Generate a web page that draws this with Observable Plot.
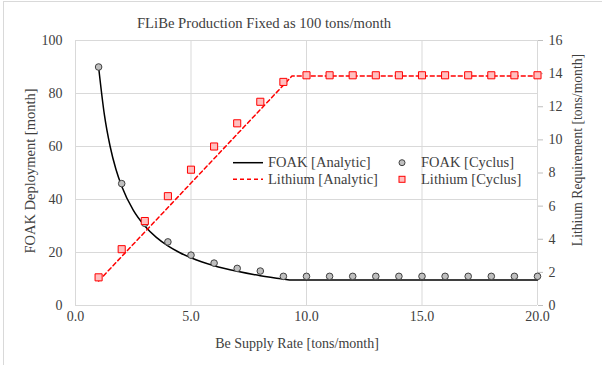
<!DOCTYPE html>
<html>
<head>
<meta charset="utf-8">
<script src="https://cdn.jsdelivr.net/npm/d3@7"></script>
<script src="https://cdn.jsdelivr.net/npm/@observablehq/plot@0.6"></script>
<style>
  html, body { margin: 0; padding: 0; background: white; }
  #chart { position: relative; width: 602px; height: 365px; overflow: hidden; }
  #chart svg, #chart svg text { font-family: "Liberation Serif", "Times New Roman", serif !important; }
</style>
</head>
<body>
<div id="chart"></div>
<script>
// ---- data ----
const title = "FLiBe Production Fixed as 100 tons/month";
const xLabel = "Be Supply Rate [tons/month]";
const yLeftLabel = "FOAK Deployment [month]";
const yRightLabel = "Lithium Requirement [tons/month]";

const xTicks = [0, 5, 10, 15, 20];
const yLeftTicks = [0, 20, 40, 60, 80, 100];
const yRightTicks = [0, 2, 4, 6, 8, 10, 12, 14, 16];

// Analytic curves
const foakAnalyticX = [1, 1.25, 1.5, 1.75, 2, 2.5, 3, 3.5, 4, 4.5, 5, 6, 7, 8, 9, 9.37, 20];
const foakAnalyticY = [90, 72, 60, 51.4, 45, 36, 30, 25.7, 22.5, 20, 18, 15, 12.9, 11.25, 10, 9.6, 9.6];
const liAnalyticX = [1, 9.37, 20];
const liAnalyticY = [1.48, 13.85, 13.85];

// Cyclus points
const cyclusX = [1, 2, 3, 4, 5, 6, 7, 8, 9, 10, 11, 12, 13, 14, 15, 16, 17, 18, 19, 20];
const foakCyclus = [90, 46, 31, 24, 19, 16, 14, 13, 11, 11, 11, 11, 11, 11, 11, 11, 11, 11, 11, 11];
const liCyclus = [1.7, 3.4, 5.1, 6.6, 8.2, 9.6, 11.0, 12.3, 13.5, 13.9, 13.9, 13.9, 13.9, 13.9, 13.9, 13.9, 13.9, 13.9, 13.9, 13.9];

const legendItems = [
  {label: "FOAK [Analytic]", kind: "line", color: "#000000", dash: null},
  {label: "Lithium [Analytic]", kind: "line", color: "#ff0000", dash: "4,3"},
  {label: "FOAK [Cyclus]", kind: "circle"},
  {label: "Lithium [Cyclus]", kind: "square"}
];

// ---- build ----
const LEFT_MAX = 100, RIGHT_MAX = 16;
const li2y = v => v * LEFT_MAX / RIGHT_MAX;

const foakLine = foakAnalyticX.map((x, i) => ({x, y: foakAnalyticY[i]}));
const liLine = liAnalyticX.map((x, i) => ({x, y: li2y(liAnalyticY[i])}));
const foakPts = cyclusX.map((x, i) => ({x, y: foakCyclus[i]}));
const liPts = cyclusX.map((x, i) => ({x, y: li2y(liCyclus[i])}));

const gridColor = "#d9d9d9";
const textColor = "#404040";
const font = "Liberation Serif, Times New Roman, serif";

const plot = Plot.plot({
  width: 602,
  height: 365,
  marginLeft: 75,
  marginRight: 65,
  marginTop: 40,
  marginBottom: 60,
  style: {fontFamily: font, fontSize: "14px", color: textColor, background: "white", overflow: "visible"},
  x: {domain: [0, 20]},
  y: {domain: [0, LEFT_MAX]},
  marks: [
    Plot.gridX(xTicks, {stroke: gridColor, strokeOpacity: 1}),
    Plot.gridY(yLeftTicks, {stroke: gridColor, strokeOpacity: 1}),
    Plot.ruleX([0], {stroke: gridColor}),
    Plot.ruleX([20], {stroke: gridColor}),
    Plot.ruleY([0], {stroke: gridColor}),
    Plot.axisX(xTicks, {tickSize: 0, tickPadding: 6, tickFormat: d => d.toFixed(1), label: null, fill: textColor}),
    Plot.axisY(yLeftTicks, {tickSize: 0, tickPadding: 13, label: null, fill: textColor}),
    Plot.axisY(yRightTicks.map(li2y), {anchor: "right", tickSize: 5, tickPadding: 6, stroke: "#bfbfbf", fill: textColor,
      tickFormat: d => String(Math.round(d * RIGHT_MAX / LEFT_MAX)), label: null}),
    Plot.line(foakLine, {x: "x", y: "y", stroke: "#000000", strokeWidth: 1.5, curve: "monotone-x"}),
    Plot.line(liLine, {x: "x", y: "y", stroke: "#ff0000", strokeWidth: 1.5, strokeDasharray: "4,3"}),
    Plot.dot(foakPts, {x: "x", y: "y", r: 3.3, fill: "#bfbfbf", stroke: "#404040", strokeWidth: 1}),
    Plot.dot(liPts, {x: "x", y: "y", r: 4, symbol: "square", fill: "#ffbfbf", stroke: "#ff0000", strokeWidth: 1})
  ]
});

const svg = d3.select(plot);
// outer chart border
svg.append("rect").attr("x", 3.5).attr("y", 1.5).attr("width", 610).attr("height", 380)
  .attr("fill", "none").attr("stroke", gridColor);

// title
svg.append("text").attr("x", 264).attr("y", 28).attr("text-anchor", "middle")
  .attr("font-size", "14.7px").attr("fill", textColor).text(title);
// x label
svg.append("text").attr("x", 297).attr("y", 348).attr("text-anchor", "middle")
  .attr("font-size", "14px").attr("fill", textColor).text(xLabel);
// left y label
svg.append("text").attr("transform", "translate(35,171) rotate(-90)").attr("text-anchor", "middle")
  .attr("font-size", "14.5px").attr("fill", textColor).text(yLeftLabel);
// right y label
svg.append("text").attr("transform", "translate(582,150) rotate(-90)").attr("text-anchor", "middle")
  .attr("font-size", "13.7px").attr("fill", textColor).text(yRightLabel);

// legend
const legendPos = [
  {x: 233, y: 162.7}, {x: 233, y: 179.3}, {x: 388, y: 162.7}, {x: 388, y: 179.3}
];
const lg = svg.append("g").attr("font-size", "14.5px").attr("fill", textColor)
  .attr("text-anchor", "start");
legendItems.forEach((it, i) => {
  const p = legendPos[i];
  if (it.kind === "line") {
    lg.append("line").attr("x1", p.x).attr("x2", p.x + 30).attr("y1", p.y).attr("y2", p.y)
      .attr("stroke", it.color).attr("stroke-width", 1.5).attr("stroke-dasharray", it.dash);
    lg.append("text").attr("x", p.x + 35).attr("y", p.y).attr("dy", "0.33em")
      .attr("text-anchor", "start").text(it.label);
  } else {
    const cx = p.x + 14;
    if (it.kind === "circle") {
      lg.append("circle").attr("cx", cx).attr("cy", p.y).attr("r", 3).attr("fill", "#bfbfbf")
        .attr("stroke", "#404040").attr("stroke-width", 1);
    } else {
      lg.append("rect").attr("x", cx - 3).attr("y", p.y - 3).attr("width", 6).attr("height", 6)
        .attr("fill", "#ffbfbf").attr("stroke", "#ff0000").attr("stroke-width", 1);
    }
    lg.append("text").attr("x", p.x + 33).attr("y", p.y).attr("dy", "0.33em")
      .attr("text-anchor", "start").text(it.label);
  }
});

document.getElementById("chart").appendChild(plot);
</script>
</body>
</html>
